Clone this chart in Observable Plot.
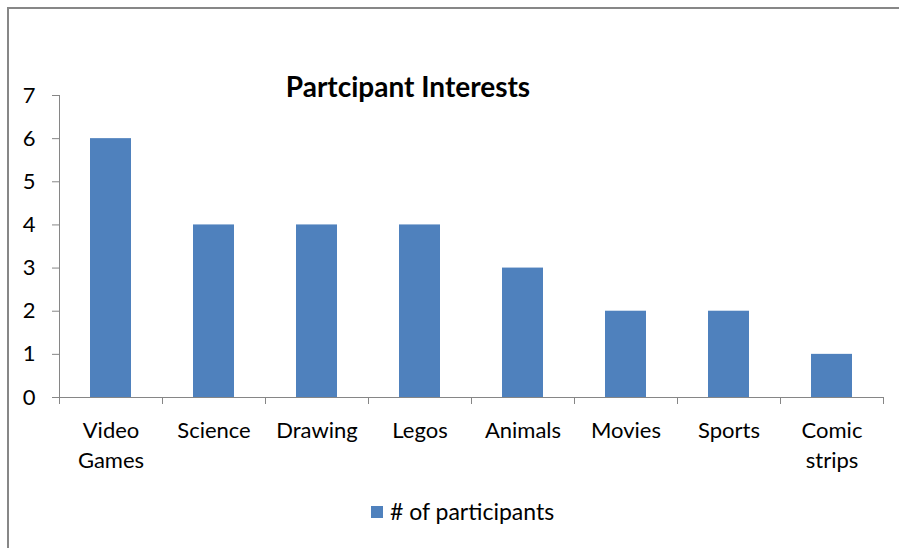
<!DOCTYPE html>
<html>
<head>
<meta charset="utf-8">
<script src="https://cdn.jsdelivr.net/npm/d3@7"></script>
<script src="https://cdn.jsdelivr.net/npm/@observablehq/plot@0.6"></script>
<style>
  html, body { margin: 0; padding: 0; background: #fff; }
  #chart { position: relative; width: 899px; height: 548px; overflow: hidden; background: #fff; font-family: Lato, sans-serif; color: #000; }
  #chart svg { position: absolute; left: 0; top: 0; }
  #border { position: absolute; left: 7px; top: 7px; width: 1200px; height: 1200px; border: 2px solid #878787; box-sizing: border-box; pointer-events: none; }
  #title { position: absolute; left: 208px; width: 400px; top: 72px; text-align: center; font-weight: bold; font-size: 28px; line-height: 28px; }
  #legend { position: absolute; left: 371px; top: 500px; font-size: 23px; line-height: 23px; display: flex; align-items: center; }
  #legend .swatch { display: inline-block; width: 12px; height: 12px; margin-right: 7px; }
</style>
</head>
<body>
<div id="chart">
  <div id="border"></div>
  <div id="title">Partcipant Interests</div>
  <div id="legend"><span class="swatch"></span><span class="name"></span></div>
</div>
<script>
// Interests reported by participants
const categories = ["Video Games", "Science", "Drawing", "Legos", "Animals", "Movies", "Sports", "Comic strips"];
const labelLines = ["Video\nGames", "Science", "Drawing", "Legos", "Animals", "Movies", "Sports", "Comic\nstrips"];
const participants = [6, 4, 4, 4, 3, 2, 2, 1];
const yTicks = [0, 1, 2, 3, 4, 5, 6, 7];
const seriesName = "# of participants";

const barColor = "#4F81BD";
const axisGray = "#868686";

const rows = categories.map((c, i) => ({category: c, value: participants[i]}));
const labelOf = new Map(categories.map((c, i) => [c, labelLines[i]]));

const width = 899, height = 548;
const marginLeft = 59, marginRight = 16, marginTop = 95, marginBottom = 151;
// band step: outer padding 0.3 on each side + inner 0.6 gives exactly one step per category
const step = (width - marginLeft - marginRight) / categories.length;

const chart = Plot.plot({
  width, height, marginLeft, marginRight, marginTop, marginBottom,
  style: {background: "transparent", fontFamily: "Lato, sans-serif", fontSize: "22px", color: "#000"},
  x: {type: "band", domain: categories, paddingInner: 0.6, paddingOuter: 0.3, label: null},
  y: {domain: [0, 7], label: null},
  marks: [
    Plot.barY(rows, {x: "category", y: "value", fill: barColor}),
    // category axis line
    Plot.ruleY([0], {stroke: axisGray}),
    // value axis line, extended down by the category tick length
    Plot.ruleX(categories.slice(0, 1), {x: d => d, y1: () => 0, y2: () => 7, dx: -step / 2, insetTop: 7, stroke: axisGray}),
    // category boundary ticks
    Plot.ruleX(categories, {x: d => d, y1: () => 0, y2: () => 0, dx: step / 2, insetTop: 7, stroke: axisGray}),
    Plot.axisY({ticks: yTicks, tickFormat: d3.format("d"), tickSize: 7, tickPadding: 17, stroke: axisGray, fill: "#000", fontSize: 22, label: null}),
    Plot.axisX({tickSize: 0, tickPadding: 19, fontSize: 22, lineHeight: 1.36, fill: "#000", label: null, tickFormat: d => labelOf.get(d)})
  ]
});

const root = document.getElementById("chart");
root.insertBefore(chart, root.firstChild);
document.querySelector("#legend .swatch").style.background = barColor;
document.querySelector("#legend .name").textContent = seriesName;
</script>
</body>
</html>
